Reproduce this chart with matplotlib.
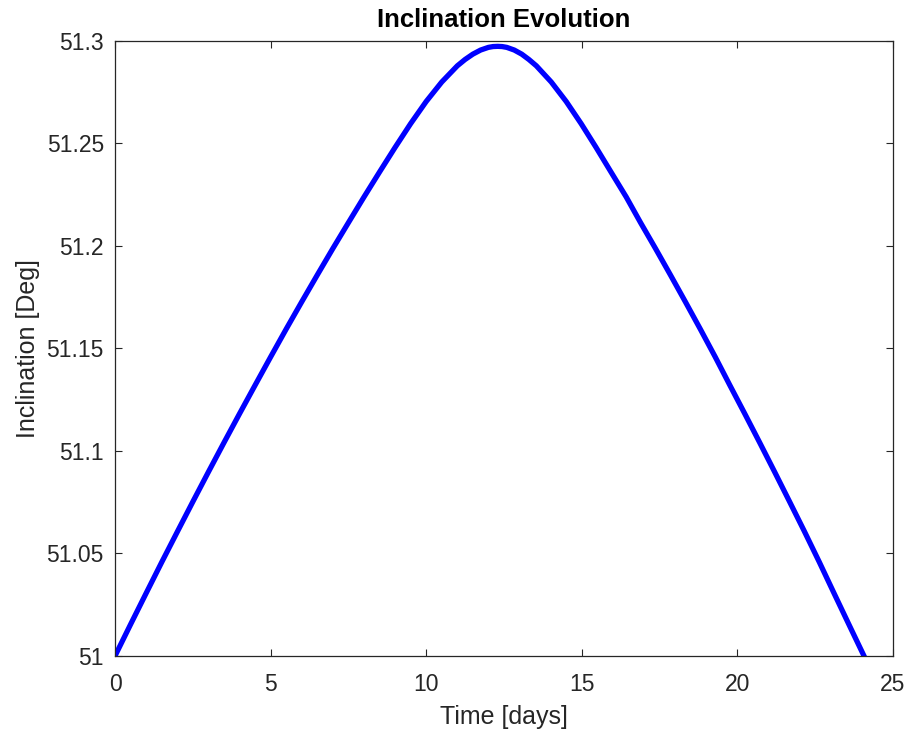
import matplotlib
matplotlib.use('Agg')
import matplotlib.pyplot as plt

plt.rcParams['font.family'] = ['Liberation Sans', 'DejaVu Sans']

# values (rising half, peak, falling half)
time_days = [0.0, 0.5, 1.0, 1.5, 2.0, 2.5, 3.0, 3.5, 4.0, 4.5, 5.0, 5.5, 6.0, 6.5,
             7.0, 7.5, 8.0, 8.5, 9.0, 9.5, 10.0, 10.5, 11.0, 11.25, 11.5, 11.75,
             12.0, 12.15, 12.3,
             12.44, 12.59, 12.83, 13.07, 13.30, 13.54, 14.02, 14.50, 14.98, 15.46,
             15.94, 16.43, 16.89, 17.37, 17.85, 18.33, 18.81, 19.29, 19.76, 20.24,
             20.72, 21.20, 21.68, 22.15, 22.64, 23.11, 23.59, 24.07]
incl_deg = [51.0, 51.0154, 51.0306, 51.0457, 51.0605, 51.0752, 51.0897, 51.1040,
            51.1181, 51.1320, 51.1458, 51.1594, 51.1727, 51.1858, 51.1987, 51.2113,
            51.2238, 51.2360, 51.2480, 51.2596, 51.2704, 51.2799, 51.2878, 51.2909,
            51.2935, 51.2955, 51.2968, 51.2972, 51.2973,
            51.2972, 51.2968, 51.2955, 51.2935, 51.2909, 51.2878, 51.2799, 51.2704,
            51.2596, 51.2480, 51.2360, 51.2238, 51.2113, 51.1987, 51.1858, 51.1727,
            51.1594, 51.1458, 51.1320, 51.1181, 51.1040, 51.0897, 51.0752, 51.0609,
            51.0456, 51.0305, 51.0152, 51.0]

x_ticks = [0, 5, 10, 15, 20, 25]
y_ticks = [51, 51.05, 51.1, 51.15, 51.2, 51.25, 51.3]
y_tick_labels = ['51', '51.05', '51.1', '51.15', '51.2', '51.25', '51.3']

fig = plt.figure(figsize=(9.13, 7.42), dpi=100)
ax = fig.add_axes([0.126, 0.116, 0.852, 0.829])

ax.plot(time_days, incl_deg, color='#0000ff', linewidth=3.8)

ax.set_xlim(0, 25)
ax.set_ylim(51, 51.3)
ax.set_xticks(x_ticks)
ax.set_yticks(y_ticks)
ax.set_yticklabels(y_tick_labels)

# matlab-ish box with inward ticks on all sides
ax.tick_params(direction='in', top=True, right=True, length=5, width=0.8,
               color='#262626', labelcolor='#262626', labelsize=16.5)
ax.tick_params(axis='x', pad=12)
ax.tick_params(axis='y', pad=8)
for s in ax.spines.values():
    s.set_color('#262626')
    s.set_linewidth(0.9)

ax.set_title('Inclination Evolution', fontsize=18.5, fontweight='bold', pad=10)
ax.set_xlabel('Time [days]', fontsize=18, color='#262626', labelpad=7)
ax.set_ylabel('Inclination [Deg]', fontsize=18, color='#262626', labelpad=5)

fig.savefig('out.png', dpi=100)
